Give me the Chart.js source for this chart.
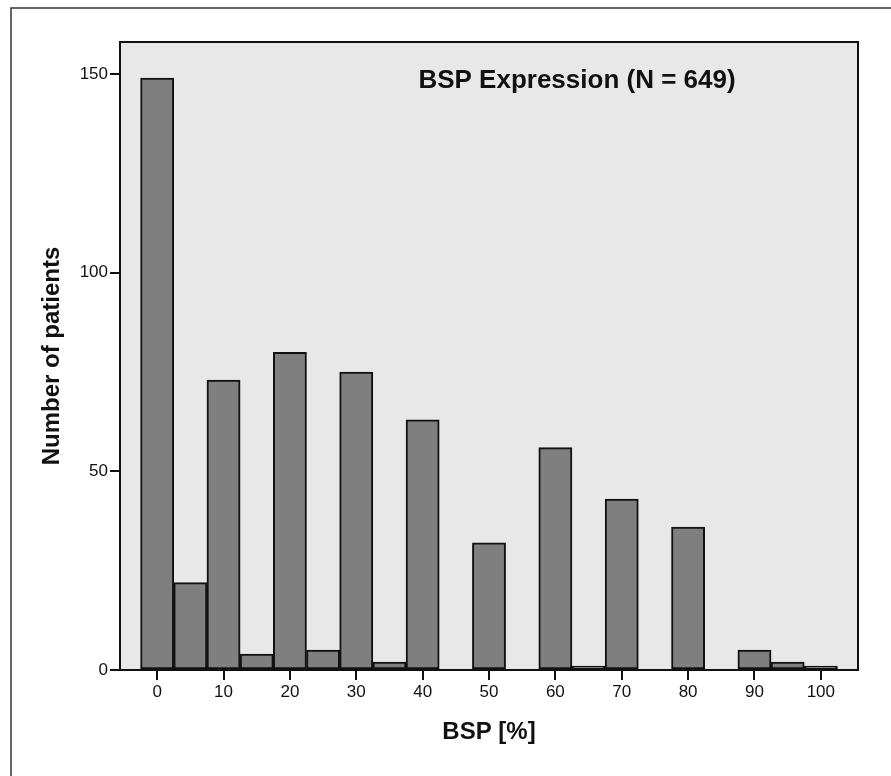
<!DOCTYPE html>
<html>
<head>
<meta charset="utf-8">
<script src="https://cdn.jsdelivr.net/npm/chart.js@4.4.1/dist/chart.umd.min.js"></script>
<style>
  html, body { margin: 0; padding: 0; background: #ffffff; }
  #wrap { width: 891px; height: 776px; position: relative; }
</style>
</head>
<body>
<div id="wrap"><canvas id="bspChart" width="891" height="776"></canvas></div>
<script>
// histogram bins (BSP %, bin centers) and patient counts
const bins = [0, 5, 10, 15, 20, 25, 30, 35, 40, 45, 50, 55, 60, 65, 70, 75, 80, 85, 90, 95, 100];
const counts = [149, 22, 73, 4, 80, 5, 75, 2, 63, 0, 32, 0, 56, 1, 43, 0, 36, 0, 5, 2, 1];
const xTicks = [0, 10, 20, 30, 40, 50, 60, 70, 80, 90, 100];
const yTicks = [0, 50, 100, 150];
const titleText = 'BSP Expression (N = 649)';

const FONT = '"Liberation Sans", Arial, sans-serif';

// plot background, frame, outer border and the inner title
const framePlugin = {
  id: 'frame',
  beforeDraw(chart) {
    const { ctx, chartArea: a } = chart;
    ctx.save();
    ctx.fillStyle = '#e8e8e8';
    ctx.fillRect(a.left, a.top, a.right - a.left, a.bottom - a.top);
    // outer figure border (only left and top visible)
    ctx.strokeStyle = '#333';
    ctx.lineWidth = 1.5;
    ctx.beginPath();
    ctx.moveTo(11, 800);
    ctx.lineTo(11, 8);
    ctx.lineTo(900, 8);
    ctx.stroke();
    ctx.restore();
  },
  afterDatasetsDraw(chart) {
    const { ctx, chartArea: a } = chart;
    ctx.save();
    ctx.strokeStyle = '#111';
    ctx.lineWidth = 2;
    ctx.strokeRect(a.left, a.top, a.right - a.left, a.bottom - a.top);
    ctx.fillStyle = '#111';
    ctx.font = 'bold 26px ' + FONT;
    ctx.textAlign = 'center';
    ctx.textBaseline = 'middle';
    ctx.fillText(titleText, 577, 81);
    ctx.restore();
  }
};

const ctx = document.getElementById('bspChart').getContext('2d');
new Chart(ctx, {
  type: 'bar',
  data: {
    datasets: [{
      data: bins.map((b, i) => ({ x: b, y: counts[i] })),
      backgroundColor: '#7f7f7f',
      borderColor: '#111',
      borderWidth: 2,
      borderSkipped: false,
      barPercentage: 1,
      categoryPercentage: 1
    }]
  },
  options: {
    responsive: false,
    animation: false,
    layout: { padding: { top: 42, right: 33, left: 0, bottom: 0 } },
    plugins: {
      legend: { display: false },
      tooltip: { enabled: false }
    },
    scales: {
      x: {
        type: 'linear',
        min: -5.6,
        max: 105.6,
        offset: false,
        afterFit: (s) => { s.height = 106; },
        afterBuildTicks: (s) => { s.ticks = xTicks.map(v => ({ value: v })); },
        grid: { drawOnChartArea: false, drawTicks: true, tickLength: 10, color: '#111', lineWidth: 2, offset: false },
        border: { display: true, color: '#111', width: 2 },
        ticks: { color: '#111', font: { family: FONT, size: 17 }, padding: 2, maxRotation: 0 },
        title: {
          display: true,
          text: 'BSP [%]',
          color: '#111',
          font: { family: FONT, size: 24, weight: 'bold' },
          padding: { top: 0, bottom: 29 }
        }
      },
      y: {
        min: 0,
        max: 158.1,
        afterFit: (s) => { s.width = 120; },
        afterBuildTicks: (s) => { s.ticks = yTicks.map(v => ({ value: v })); },
        grid: { drawOnChartArea: false, drawTicks: true, tickLength: 10, color: '#111', lineWidth: 2 },
        border: { display: true, color: '#111', width: 2 },
        ticks: { color: '#111', font: { family: FONT, size: 17 }, padding: 2 },
        title: {
          display: true,
          text: 'Number of patients',
          color: '#111',
          font: { family: FONT, size: 24, weight: 'bold' },
          padding: { top: 38, bottom: 0 }
        }
      }
    }
  },
  plugins: [framePlugin]
});
</script>
</body>
</html>
